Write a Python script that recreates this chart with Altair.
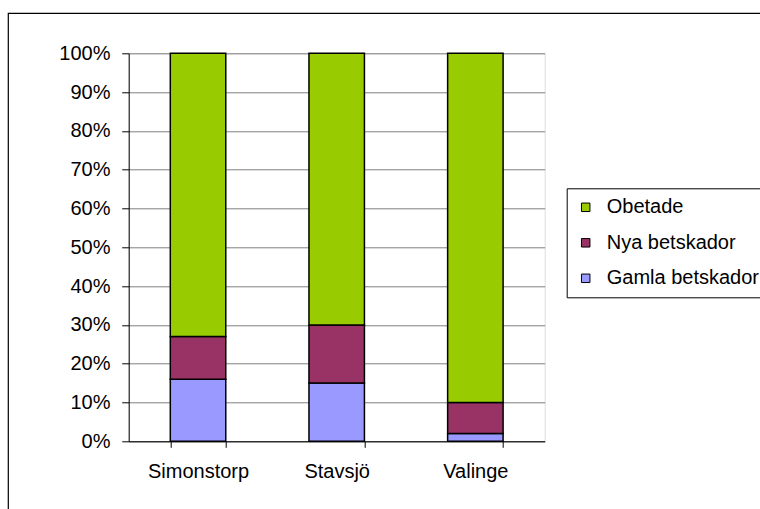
import altair as alt
import pandas as pd

# Share of damage classes per site (percent of stems)
sites = ["Simonstorp", "Stavsjö", "Valinge"]
gamla = [16, 15, 2]       # Gamla betskador
nya = [11, 15, 8]         # Nya betskador
obetade = [73, 70, 90]    # Obetade

classes = ["Obetade", "Nya betskador", "Gamla betskador"]
colors = ["#99CC00", "#993366", "#9999FF"]
stack_order = {"Gamla betskador": 0, "Nya betskador": 1, "Obetade": 2}

rows = []
for i, s in enumerate(sites):
    for cls, vals in (("Gamla betskador", gamla), ("Nya betskador", nya), ("Obetade", obetade)):
        rows.append({"plats": s, "klass": cls, "andel": vals[i], "ordning": stack_order[cls]})
df = pd.DataFrame(rows)

FONT = "Liberation Sans"
W, H = 416, 388
PAD_L, PAD_T = 128.7, 53.3

bars = alt.Chart(df).mark_bar(stroke="black", strokeWidth=1.5).encode(
    x=alt.X(
        "plats:N",
        sort=sites,
        scale=alt.Scale(paddingInner=0.6, paddingOuter=0.3),
        axis=alt.Axis(
            title=None, labelAngle=0, tickBand="extent", tickSize=6,
            labelPadding=14.6, labelFontSize=20, labelFont=FONT, labelColor="black",
            domainColor="black", tickColor="black", grid=False,
        ),
    ),
    y=alt.Y(
        "andel:Q",
        stack="normalize",
        scale=alt.Scale(domain=[0, 1], nice=False),
        axis=alt.Axis(
            title=None, values=[i / 10 for i in range(11)], format=".0%",
            labelFontSize=20, labelFont=FONT, labelColor="black", labelPadding=11.7,
            tickSize=7, tickColor="black", domainColor="black",
            grid=True, gridColor="#808080", gridWidth=1,
        ),
    ),
    color=alt.Color(
        "klass:N",
        scale=alt.Scale(domain=classes, range=colors),
        legend=alt.Legend(
            title=None, orient="none", legendX=438, legendY=135,
            strokeColor="black", fillColor="white", padding=9, cornerRadius=0,
            symbolType="square", symbolSize=72, symbolStrokeColor="black",
            symbolStrokeWidth=1, labelFontSize=20, labelFont=FONT,
            labelColor="black", labelOffset=11, rowPadding=15.5,
        ),
    ),
    order=alt.Order("ordning:Q", sort="ascending"),
)

# Frame around the whole chart
frame = alt.Chart(pd.DataFrame({"f": [0]})).mark_rect(
    filled=False, stroke="black", strokeWidth=1.2
).encode(
    x=alt.value(-120.4), x2=alt.value(650),
    y=alt.value(-40), y2=alt.value(480),
)

chart = alt.layer(bars, frame).properties(
    width=W, height=H,
    autosize="none",
    padding={"left": PAD_L, "top": PAD_T, "right": 760 - PAD_L - W, "bottom": 509 - PAD_T - H},
).configure_view(stroke="#808080", strokeWidth=1.5).configure(background="white")

chart.save("out.html", embed_options={"renderer": "svg", "actions": False})
